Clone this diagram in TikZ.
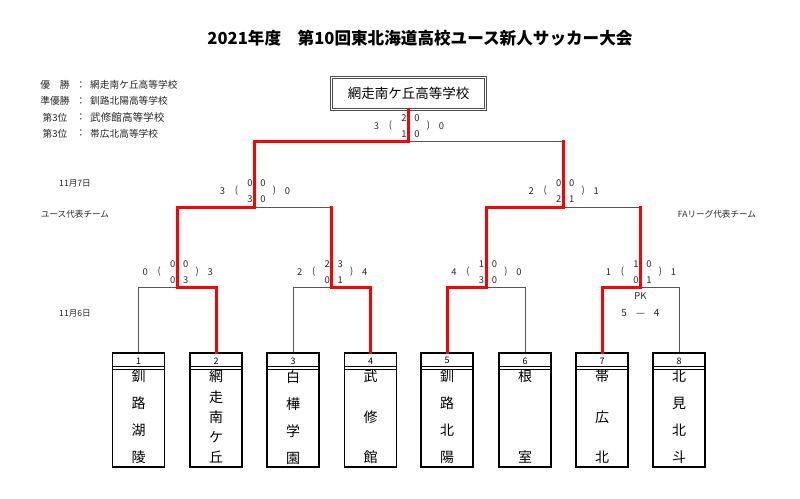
\documentclass[tikz,border=0pt]{standalone}
\usepackage{fontspec}
\setmainfont{Noto Sans CJK JP}
\definecolor{lngray}{HTML}{555555}
\newcommand{\matchscore}[9]{%
  \node[sc] (#1-l)  at ({#2-32},{#3}) {#4};
  \node[sc] (#1-op) at ({#2-18},{#3}) {(};
  \node[sc] (#1-tl) at ({#2-4.5},{#3-8}) {#5};
  \node[sc] (#1-tr) at ({#2+8.5},{#3-8}) {#6};
  \node[sc] (#1-bl) at ({#2-4.5},{#3+8}) {#7};
  \node[sc] (#1-br) at ({#2+8.5},{#3+8}) {#8};
  \node[sc] (#1-cp) at ({#2+20},{#3}) {)};
  \node[sc] (#1-r)  at ({#2+33},{#3}) {#9};
}
\begin{document}
\begin{tikzpicture}[x=1pt,y=-1pt,
  gl/.style={draw=lngray,line width=0.9pt},
  rl/.style={draw=red,line width=3pt,line join=miter,line cap=rect},
  sc/.style={font=\fontsize{9.4}{10}\selectfont,text=black!85,inner sep=0pt},
  lg/.style={font=\fontsize{9.7}{11}\selectfont,text=black!85,inner sep=0pt},
  side/.style={font=\fontsize{8.6}{10}\selectfont,text=black!85,inner sep=0pt},
  teambox/.style={draw=black,line width=1.6pt,minimum width=52pt,minimum height=114pt,anchor=north,inner sep=0pt},
  numtxt/.style={font=\fontsize{9}{10}\selectfont,inner sep=0pt},
  teamtxt/.style={align=center,anchor=north,inner sep=0pt},
  sepline/.style={draw=black,line width=0.8pt}]
\useasboundingbox (0,0) rectangle (800,498);

% title
\node[font=\fontsize{16.6}{18}\selectfont\bfseries,inner sep=0pt] (title) at (420,38) {2021年度　第10回東北海道高校ユース新人サッカー大会};

% legend
\node[lg] (l1a) at (55,85) {優　勝};
\node[lg] (l1b) at (81,85) {：};
\node[lg,anchor=west] (l1c) at (90,85) {網走南ケ丘高等学校};
\node[lg] (l2a) at (55,101) {準優勝};
\node[lg] (l2b) at (81,101) {：};
\node[lg,anchor=west] (l2c) at (90,101) {釧路北陽高等学校};
\node[lg] (l3a) at (55,117.5) {第3位};
\node[lg] (l3b) at (81,117.5) {：};
\node[lg,anchor=west,font=\fontsize{10.6}{12}\selectfont] (l3c) at (90,117.5) {武修館高等学校};
\node[lg] (l4a) at (55,133.5) {第3位};
\node[lg] (l4b) at (81,133.5) {：};
\node[lg,anchor=west] (l4c) at (90,133.5) {帯広北高等学校};

% side labels
\node[side] (d7) at (75,183) {11月7日};
\node[side] (d6) at (75,313) {11月6日};
\node[side] (yth) at (75,214) {ユース代表チーム};
\node[side] (fal) at (717,214) {FAリーグ代表チーム};

% champion box
\node[draw=black!70,double=white,double distance=1.3pt,line width=0.9pt,minimum width=154pt,minimum height=32pt,inner sep=0pt,font=\fontsize{13.5}{16}\selectfont] (top) at (408.5,93.5) {網走南ケ丘高等学校};

% team boxes
\node[teambox] (b1) at (138.5,352) {};
\node[teambox] (b2) at (216,352) {};
\node[teambox] (b3) at (293,352) {};
\node[teambox] (b4) at (370.5,352) {};
\node[teambox] (b5) at (447,352) {};
\node[teambox] (b6) at (525,352) {};
\node[teambox] (b7) at (602,352) {};
\node[teambox] (b8) at (679,352) {};
\foreach \b/\n in {b1/1,b2/2,b3/3,b4/4,b5/5,b6/6,b7/7,b8/8}{
  \node[numtxt] (n\n) at ([yshift=-8.8pt]\b.north) {\n};
  \draw[sepline] ([yshift=-14.6pt]\b.north west) -- ([yshift=-14.6pt]\b.north east);
  \draw[sepline] ([yshift=-17.4pt]\b.north west) -- ([yshift=-17.4pt]\b.north east);
}
\node[teamtxt,font=\fontsize{14}{27}\selectfont] (t1) at (138.5,370) {釧\\路\\湖\\陵};
\node[teamtxt,font=\fontsize{14}{20.25}\selectfont] (t2) at (216,370) {網\\走\\南\\ケ\\丘};
\node[teamtxt,font=\fontsize{14}{27}\selectfont] (t3) at (293,370) {白\\樺\\学\\園};
\node[teamtxt,font=\fontsize{14}{40.5}\selectfont] (t4) at (370.5,370) {武\\修\\館};
\node[teamtxt,font=\fontsize{14}{27}\selectfont] (t5) at (447,370) {釧\\路\\北\\陽};
\node[teamtxt,font=\fontsize{14}{81}\selectfont] (t6) at (525,370) {根\\室};
\node[teamtxt,font=\fontsize{14}{40.5}\selectfont] (t7) at (602,370) {帯\\広\\北};
\node[teamtxt,font=\fontsize{14}{27}\selectfont] (t8) at (679,370) {北\\見\\北\\斗};

% junctions
\coordinate (q1) at (177.25,287);
\coordinate (q2) at (331.75,287);
\coordinate (q3) at (486,287);
\coordinate (q4) at (640.5,287);
\coordinate (s1) at (254.5,207);
\coordinate (s2) at (563.25,207);
\coordinate (f) at (408.5,141);

% gray bracket lines
\draw[gl] (b1.north) |- (q1);
\draw[gl] (b3.north) |- (q2);
\draw[gl] (b6.north) |- (q3);
\draw[gl] (b8.north) |- (q4);
\draw[gl] (s1) -| (q2);
\draw[gl] (s2) -| (q4);
\draw[gl] (f) -| (s2);

% red winner paths
\draw[rl] (b2.north) |- (q1) |- (s1) |- (f) -- (top.south);
\draw[rl] (b4.north) |- (q2) -- (q2 |- s1);
\draw[rl] (b5.north) |- (q3) |- (s2) -- (s2 |- f);
\draw[rl] (b7.north) |- (q4) -- (q4 |- s2);

% scores
\matchscore{mf}{408.5}{126}{3}{2}{0}{1}{0}{0}
\matchscore{ms1}{254.5}{191}{3}{0}{0}{3}{0}{0}
\matchscore{ms2}{563.25}{191}{2}{0}{0}{2}{1}{1}
\matchscore{mq1}{177.25}{272}{0}{0}{0}{0}{3}{3}
\matchscore{mq2}{331.75}{272}{2}{2}{3}{0}{1}{4}
\matchscore{mq3}{486}{272}{4}{1}{0}{3}{0}{0}
\matchscore{mq4}{640.5}{272}{1}{1}{0}{0}{1}{1}

% PK
\node[sc] (pk) at (640.5,296) {PK};
\node[sc,font=\fontsize{10}{12}\selectfont] (pks) at (640.5,313) {5\hspace{9pt}—\hspace{9pt}4};
\end{tikzpicture}
\end{document}
